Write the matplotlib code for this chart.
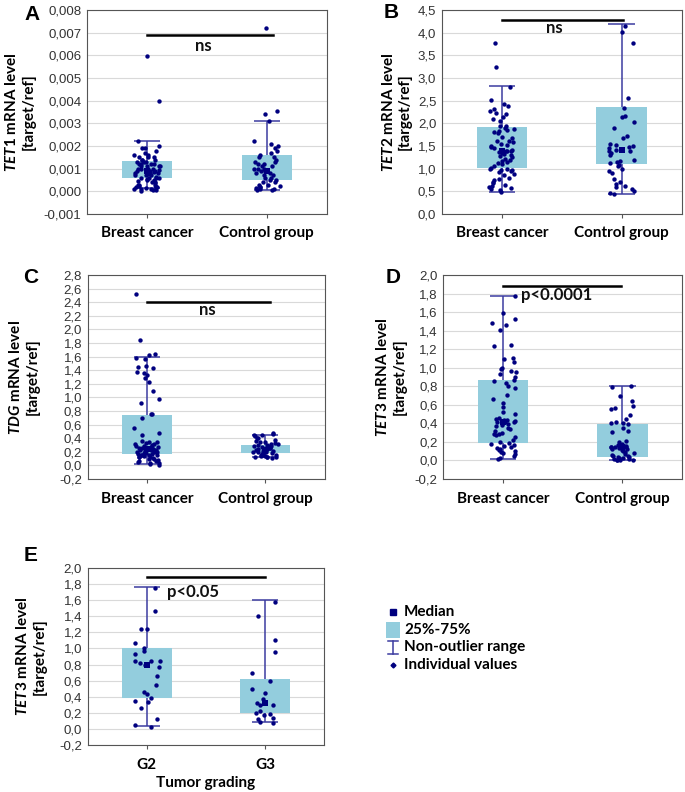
import numpy as np
import matplotlib
matplotlib.use("Agg")
import matplotlib.pyplot as plt
from matplotlib.ticker import FuncFormatter
from matplotlib.patches import Rectangle

plt.rcParams["font.family"] = ["Lato", "DejaVu Sans"]
plt.rcParams["mathtext.fontset"] = "custom"
plt.rcParams["mathtext.it"] = "Lato:italic:bold"
plt.rcParams["mathtext.rm"] = "Lato:bold"

NAVY = "#00007F"
BOXC = "#93CDDD"
WHISK = "#3C3CA0"

GROUPS = ["Breast cancer", "Control group"]
GRADES = ["G2", "G3"]

# ── Panel A: TET1 ────────────────────────────────────────────────────────────
tet1_bc = [0.00595, 0.0040, 0.0022, 0.0020, 0.0019, 0.0019, 0.0018, 0.0017, 0.0016,
           0.0016, 0.0015, 0.0015, 0.0014, 0.0014, 0.0014, 0.0013, 0.0013, 0.0013,
           0.0012, 0.0012, 0.0012, 0.0011, 0.0011, 0.0011, 0.0011, 0.0010, 0.0010,
           0.0010, 0.0010, 0.00095, 0.0009, 0.0009, 0.0009, 0.00085, 0.0008, 0.0008,
           0.0008, 0.00075, 0.0007, 0.0007, 0.0007, 0.00065, 0.0006, 0.0006, 0.0006,
           0.00055, 0.0005, 0.0005, 0.00045, 0.0004, 0.0004, 0.00035, 0.0003, 0.0003,
           0.00025, 0.0002, 0.0002, 0.0002, 0.00018, 0.00015, 0.00012, 0.0001, 0.0001,
           0.00008, 0.00005, 0.00003, 0.0015, 0.0012, 0.0009, 0.0006, 0.0003]
tet1_ctrl = [0.0072, 0.00355, 0.0034, 0.0031, 0.0022, 0.0021, 0.0020, 0.0019, 0.0018,
             0.0017, 0.0016, 0.0015, 0.0015, 0.0014, 0.0013, 0.0013, 0.0012, 0.0012,
             0.0011, 0.0011, 0.0010, 0.0010, 0.0010, 0.0009, 0.0009, 0.0008, 0.0008,
             0.0007, 0.0007, 0.0006, 0.0006, 0.0005, 0.0005, 0.0004, 0.0004, 0.0003,
             0.0003, 0.00025, 0.0002, 0.0002, 0.00015, 0.0001, 0.0001, 0.00008, 0.00005]
tet1_q1 = [0.00057, 0.00050]
tet1_q3 = [0.00136, 0.00162]
tet1_lo = [0.00013, 0.00006]
tet1_hi = [0.00224, 0.00312]
tet1_med = [0.0009, 0.0009]

# ── Panel B: TET2 ────────────────────────────────────────────────────────────
tet2_bc = [3.78, 3.25, 2.80, 2.52, 2.42, 2.38, 2.32, 2.28, 2.22, 2.20, 2.15, 2.10, 2.05,
           1.95, 1.95, 1.90, 1.88, 1.85, 1.82, 1.80, 1.78, 1.70, 1.68, 1.62, 1.60, 1.58,
           1.55, 1.52, 1.50, 1.48, 1.45, 1.42, 1.40, 1.38, 1.38, 1.36, 1.35, 1.32, 1.30,
           1.28, 1.25, 1.22, 1.20, 1.18, 1.15, 1.12, 1.10, 1.05, 1.02, 1.00, 1.00, 0.98,
           0.96, 0.95, 0.92, 0.88, 0.85, 0.80, 0.78, 0.75, 0.70, 0.68, 0.65, 0.62, 0.60,
           0.58, 0.55, 0.52, 0.49]
tet2_ctrl = [4.15, 4.02, 3.77, 2.55, 2.34, 2.17, 2.14, 2.03, 1.90, 1.72, 1.68, 1.55, 1.52,
             1.50, 1.48, 1.45, 1.42, 1.40, 1.38, 1.35, 1.30, 1.20, 1.17, 1.15, 1.12, 1.08,
             1.05, 1.00, 0.95, 0.90, 0.78, 0.70, 0.67, 0.62, 0.60, 0.55, 0.50, 0.47, 0.45]
tet2_q1 = [1.01, 1.10]
tet2_q3 = [1.91, 2.35]
tet2_lo = [0.49, 0.44]
tet2_hi = [2.82, 4.19]
tet2_med = [1.40, 1.42]

# ── Panel C: TDG ─────────────────────────────────────────────────────────────
tdg_bc = [2.52, 1.85, 1.64, 1.62, 1.58, 1.56, 1.46, 1.45, 1.43, 1.38, 1.36, 1.33, 1.28,
          1.23, 1.10, 0.98, 0.92, 0.76, 0.75, 0.69, 0.55, 0.47, 0.45, 0.36, 0.35, 0.34,
          0.33, 0.32, 0.31, 0.30, 0.29, 0.28, 0.27, 0.27, 0.26, 0.25, 0.25, 0.24, 0.24,
          0.23, 0.23, 0.22, 0.22, 0.21, 0.21, 0.20, 0.20, 0.19, 0.19, 0.18, 0.18, 0.17,
          0.17, 0.16, 0.16, 0.15, 0.15, 0.14, 0.13, 0.12, 0.12, 0.11, 0.10, 0.09, 0.08,
          0.07, 0.06, 0.05, 0.04, 0.03, 0.02, 0.01]
tdg_ctrl = [0.47, 0.46, 0.45, 0.44, 0.43, 0.41, 0.40, 0.38, 0.36, 0.35, 0.34, 0.33, 0.32,
            0.31, 0.30, 0.30, 0.29, 0.28, 0.28, 0.27, 0.26, 0.26, 0.25, 0.25, 0.24, 0.24,
            0.23, 0.23, 0.22, 0.22, 0.21, 0.21, 0.20, 0.20, 0.19, 0.18, 0.18, 0.17, 0.16,
            0.16, 0.15, 0.14, 0.14, 0.13, 0.13, 0.12, 0.12, 0.11]
tdg_q1 = [0.166, 0.18]
tdg_q3 = [0.748, 0.30]
tdg_lo = [0.024, 0.117]
tdg_hi = [1.594, 0.44]
tdg_med = [0.24, 0.23]

# ── Panel D: TET3 ────────────────────────────────────────────────────────────
tet3_bc = [1.77, 1.59, 1.53, 1.48, 1.46, 1.41, 1.25, 1.23, 1.11, 1.09, 1.06, 1.00, 0.99,
           0.97, 0.95, 0.93, 0.90, 0.87, 0.86, 0.84, 0.80, 0.78, 0.71, 0.66, 0.62, 0.58,
           0.52, 0.50, 0.46, 0.45, 0.44, 0.44, 0.43, 0.42, 0.42, 0.41, 0.40, 0.39, 0.38,
           0.37, 0.35, 0.34, 0.32, 0.30, 0.29, 0.28, 0.27, 0.25, 0.22, 0.20, 0.19, 0.18,
           0.17, 0.16, 0.15, 0.13, 0.12, 0.11, 0.10, 0.09, 0.08, 0.07, 0.05, 0.03, 0.02]
tet3_ctrl = [0.80, 0.79, 0.70, 0.64, 0.59, 0.57, 0.55, 0.49, 0.45, 0.41, 0.40, 0.40, 0.39,
             0.35, 0.32, 0.31, 0.21, 0.20, 0.18, 0.17, 0.16, 0.16, 0.15, 0.15, 0.14, 0.14,
             0.13, 0.13, 0.12, 0.12, 0.11, 0.10, 0.09, 0.08, 0.07, 0.06, 0.05, 0.05, 0.04,
             0.04, 0.03, 0.03, 0.02, 0.02, 0.01, 0.01, 0.00, 0.00]
tet3_q1 = [0.183, 0.036]
tet3_q3 = [0.871, 0.398]
tet3_lo = [0.018, 0.00]
tet3_hi = [1.774, 0.806]
tet3_med = [0.42, 0.14]

# ── Panel E: TET3 by grade ───────────────────────────────────────────────────
g2 = [1.75, 1.46, 1.24, 1.24, 1.07, 1.00, 0.97, 0.93, 0.85, 0.85, 0.84, 0.82, 0.79,
      0.77, 0.66, 0.54, 0.46, 0.44, 0.38, 0.35, 0.33, 0.26, 0.12, 0.05, 0.02]
g3 = [1.58, 1.40, 1.10, 0.96, 0.70, 0.60, 0.50, 0.45, 0.37, 0.32, 0.30, 0.30, 0.22,
      0.20, 0.18, 0.17, 0.14, 0.12, 0.09, 0.08]
grade_q1 = [0.38, 0.195]
grade_q3 = [1.00, 0.625]
grade_lo = [0.04, 0.087]
grade_hi = [1.77, 1.60]
grade_med = [0.795, 0.32]


def comma_fmt(dec):
    return FuncFormatter(lambda v, p: f"{v:.{dec}f}".replace(".", ","))


def draw_panel(ax, labels, series, q1, q3, lo, hi, med, gene, ylim, step, dec,
               sig, letter, lab_x, seed):
    rng = np.random.default_rng(seed)
    x = np.arange(len(labels))
    ax.vlines(x, lo, hi, color=WHISK, lw=1.1, zorder=2)
    ax.hlines(lo, x - 0.11, x + 0.11, color=WHISK, lw=1.1, zorder=2)
    ax.hlines(hi, x - 0.11, x + 0.11, color=WHISK, lw=1.1, zorder=2)
    ax.bar(x, np.array(q3) - np.array(q1), bottom=q1, width=0.42, color=BOXC,
           zorder=2.5)
    for i, vals in enumerate(series):
        jit = rng.uniform(-0.11, 0.11, len(vals))
        ax.scatter(i + jit, vals, s=10, color=NAVY, zorder=3, linewidths=0)
    ax.scatter(x, med, marker="s", s=22, color=NAVY, zorder=4, linewidths=0)

    # significance bar
    y_bar, x_end, txt, tx, ty = sig
    ax.plot([0, x_end], [y_bar, y_bar], color="black", lw=1.8, zorder=5)
    ax.text(tx, ty, txt, ha="center", va="center", fontsize=12,
            fontweight="bold", color="#111111", zorder=5)

    ax.set_xlim(-0.5, 1.5)
    ax.set_ylim(*ylim)
    ax.set_yticks(np.arange(ylim[0], ylim[1] + step / 2, step))
    ax.yaxis.set_major_formatter(comma_fmt(dec))
    ax.set_xticks(x)
    ax.set_xticklabels(labels, fontsize=11, fontweight="bold")
    for t in ax.get_yticklabels():
        t.set_fontfamily("Liberation Sans")
        t.set_fontsize(9.5)
        t.set_color("#333333")
    ax.tick_params(axis="y", length=0, pad=4)
    ax.tick_params(axis="x", length=3, color="#555555", pad=6)
    ax.grid(axis="y", color="#d9d9d9", lw=0.8, zorder=0)
    ax.set_axisbelow(True)
    for s in ax.spines.values():
        s.set_color("#555555")
        s.set_linewidth(0.8)

    ax.set_ylabel(rf"$\mathit{{{gene}}}$ mRNA level" + "\n[target/ref]",
                  fontsize=11, fontweight="bold", linespacing=1.2)
    ax.yaxis.label.set_verticalalignment("center")
    ax.yaxis.set_label_coords(lab_x, 0.5)
    ax.text(letter[1], letter[2], letter[0], transform=ax.transAxes,
            fontsize=15, fontweight="bold", family="Liberation Sans",
            ha="center", va="center")


fig = plt.figure(figsize=(6.85, 7.92), dpi=100)

axA = fig.add_axes([0.127, 0.7298, 0.350, 0.2576])
axB = fig.add_axes([0.645, 0.7298, 0.350, 0.2576])
axC = fig.add_axes([0.128, 0.3952, 0.346, 0.2576])
axD = fig.add_axes([0.647, 0.3952, 0.349, 0.2576])
axE = fig.add_axes([0.128, 0.0593, 0.345, 0.2235])

draw_panel(axA, GROUPS, [tet1_bc, tet1_ctrl], tet1_q1, tet1_q3, tet1_lo, tet1_hi,
           tet1_med, "TET1", (-0.001, 0.008), 0.001, 3,
           (0.0069, 1.05, "ns", 0.47, 0.0064), ("A", -0.23, 0.98), -0.28, 1)
draw_panel(axB, GROUPS, [tet2_bc, tet2_ctrl], tet2_q1, tet2_q3, tet2_lo, tet2_hi,
           tet2_med, "TET2", (0.0, 4.5), 0.5, 1,
           (4.29, 1.01, "ns", 0.44, 4.1), ("B", -0.21, 0.99), -0.19, 2)
draw_panel(axC, GROUPS, [tdg_bc, tdg_ctrl], tdg_q1, tdg_q3, tdg_lo, tdg_hi,
           tdg_med, "TDG", (-0.2, 2.8), 0.2, 1,
           (2.41, 1.04, "ns", 0.51, 2.29), ("C", -0.24, 0.99), -0.27, 3)
draw_panel(axD, GROUPS, [tet3_bc, tet3_ctrl], tet3_q1, tet3_q3, tet3_lo, tet3_hi,
           tet3_med, "TET3", (-0.2, 2.0), 0.2, 1,
           (1.885, 0.99, "p<0.0001", 0.45, 1.785), ("D", -0.21, 0.99), -0.22, 4)
draw_panel(axE, GRADES, [g2, g3], grade_q1, grade_q3, grade_lo, grade_hi,
           grade_med, "TET3", (-0.2, 2.0), 0.2, 1,
           (1.89, 1.0, "p<0.05", 0.39, 1.70), ("E", -0.24, 1.07), -0.24, 5)
axE.set_xlabel("Tumor grading", fontsize=11, fontweight="bold", labelpad=3)

# ── Legend (drawn in pixel coordinates) ──────────────────────────────────────
leg = fig.add_axes([0, 0, 1, 1], facecolor="none")
leg.set_xlim(0, 685)
leg.set_ylim(792, 0)
leg.axis("off")
leg.plot([393], [612], marker="s", ms=5, color=NAVY)
leg.add_patch(Rectangle((386, 622), 14, 16, color=BOXC, lw=0))
leg.plot([393, 393], [641, 654], color=WHISK, lw=1.1)
leg.plot([388, 398], [641, 641], color=WHISK, lw=1.1)
leg.plot([388, 398], [654, 654], color=WHISK, lw=1.1)
leg.plot([393], [665], marker="D", ms=2.5, color=NAVY)
for txt, yy in [("Median", 612), ("25%-75%", 630), ("Non-outlier range", 647),
                ("Individual values", 665)]:
    leg.text(404, yy, txt, fontsize=11, fontweight="bold", va="center", ha="left")

fig.savefig("out.png", dpi=100)
